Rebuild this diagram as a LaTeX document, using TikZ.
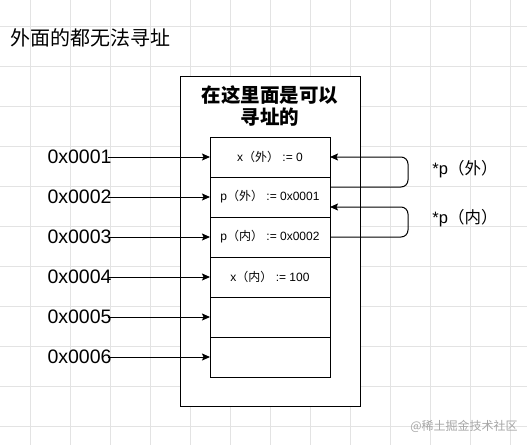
\documentclass[tikz,border=0pt]{standalone}
\usepackage{fontspec}
\setmainfont{Liberation Sans}
\newfontfamily\cjk{Noto Sans CJK SC}
\usetikzlibrary{arrows.meta,positioning}

\begin{document}
\begin{tikzpicture}[x=1pt,y=-1pt,>={Stealth[length=8pt,width=7pt,inset=1.5pt]},line width=1pt,
  gridline/.style={draw=black!11,line width=0.8pt},
  cell/.style={draw,fill=white,minimum width=120pt,minimum height=40pt,inner sep=0pt,outer sep=0pt,font=\fontsize{12}{14}\selectfont},
  addr/.style={inner sep=0pt,font=\fontsize{19.5}{22}\selectfont},
  ptr/.style={inner sep=0pt,font=\fontsize{16.5}{20}\selectfont}]
        \useasboundingbox (0,0) rectangle (527,445);
        % background grid
        \foreach \gx in {30,70,...,510}
          \draw [gridline] (\gx,0) -- (\gx,445);
        \foreach \gy in {26,66,...,426}
          \draw [gridline] (0,\gy) -- (527,\gy);

        \node [anchor=west,inner sep=0pt,font=\fontsize{20}{24}\selectfont\cjk] (outside) at (10,38) {外面的都无法寻址};

        \node [draw,fill=white,minimum width=180pt,minimum height=330pt,outer sep=0pt] (frame) at (270,241) {};
        \node [align=center,inner sep=0pt,font=\fontsize{19.5}{22}\selectfont\cjk\bfseries] (inside) at (270,106) {在这里面是可以\\寻址的};

        % memory cells
        \node [cell] (c1) at (270,157) {x{\cjk（外）} := 0};
        \node [cell,below=0pt of c1] (c2) {p{\cjk（外）} := 0x0001};
        \node [cell,below=0pt of c2] (c3) {p{\cjk（内）} := 0x0002};
        \node [cell,below=0pt of c3] (c4) {x{\cjk（内）} := 100};
        \node [cell,below=0pt of c4] (c5) {};
        \node [cell,below=0pt of c5] (c6) {};

        % addresses
        \foreach \i in {1,...,6} {
          \node [addr,anchor=east] (a\i) at (112,{117+40*\i}) {0x000\i};
          \draw [->] ([xshift=-4pt]a\i.east) -- (c\i.west);
        }

        % pointers
        \draw [->,rounded corners=7pt] ([yshift=-10pt]c2.north east) -- ++(78,0) |- (c1.east);
        \draw [->,rounded corners=7pt] (c3.east) -- ++(78,0) |- ([yshift=-10pt]c2.east);
        \node [ptr] (p1) at (465,169) {*p{\cjk（外）}};
        \node [ptr] (p2) at (465,218) {*p{\cjk（内）}};

        \node [inner sep=0pt,text=black!35,font=\fontsize{12}{14}\selectfont\cjk] (mark) at (464,426) {@稀土掘金技术社区};
        \end{tikzpicture}
\end{document}
